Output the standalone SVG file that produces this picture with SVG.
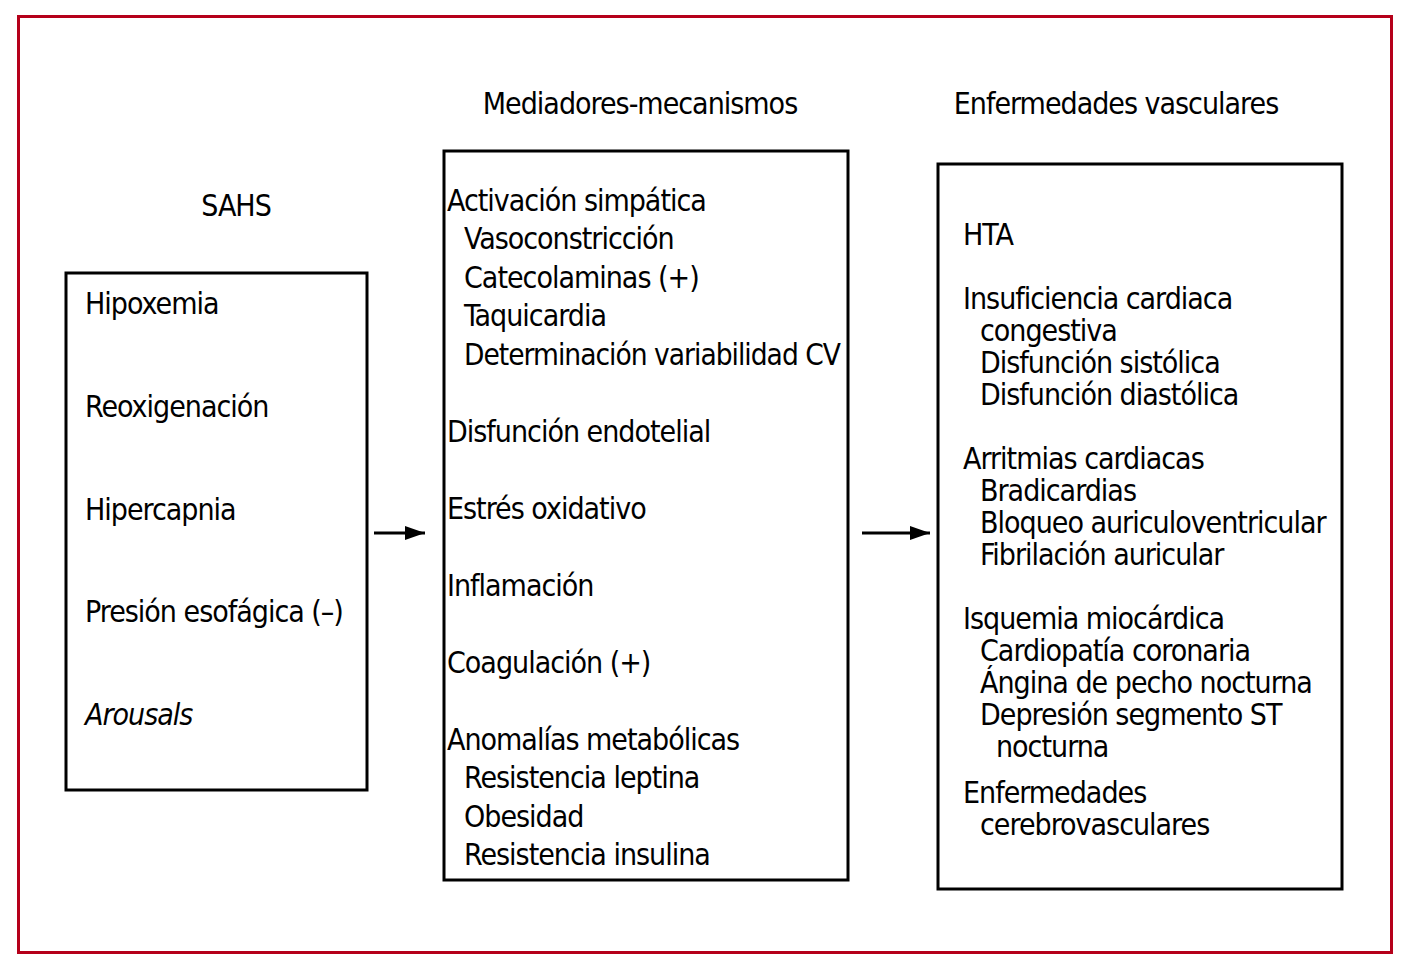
<svg xmlns="http://www.w3.org/2000/svg" width="1410" height="966" viewBox="0 0 1410 966">
<style>
text{font-family:"Liberation Sans Narrow","DejaVu Sans Condensed","Liberation Sans",sans-serif;font-stretch:condensed;font-size:30px;letter-spacing:-1px;fill:#000}
.box{fill:#fff;stroke:#000;stroke-width:3}
.hd{text-anchor:middle}
</style>
<defs>
<marker id="ah" markerWidth="20" markerHeight="14" refX="20" refY="7" orient="auto" markerUnits="userSpaceOnUse" viewBox="0 0 20 14">
<path d="M0,0 L20,7 L0,14 Z" fill="#000"/>
</marker>
</defs>
<rect width="1410" height="966" fill="#fff"/>
<rect x="18.5" y="16.5" width="1373" height="936" fill="none" stroke="#B5001A" stroke-width="3"/>
<text class="hd" x="640" y="114">Mediadores-mecanismos</text>
<text class="hd" x="1116" y="114">Enfermedades vasculares</text>
<text class="hd" x="236" y="216">SAHS</text>
<g id="sahs">
<rect class="box" x="66" y="273" width="301" height="517"/>
<text x="85" y="314">Hipoxemia</text>
<text x="85" y="417">Reoxigenación</text>
<text x="85" y="520">Hipercapnia</text>
<text x="85" y="622">Presión esofágica (–)</text>
<text x="85" y="725" font-style="italic">Arousals</text>
</g>
<g id="mediadores">
<rect class="box" x="444" y="151" width="404" height="729"/>
<text x="447" y="211">Activación simpática</text>
<text x="464" y="249">Vasoconstricción</text>
<text x="464" y="288">Catecolaminas (+)</text>
<text x="464" y="326">Taquicardia</text>
<text x="464" y="365" textLength="376" lengthAdjust="spacingAndGlyphs">Determinación variabilidad CV</text>
<text x="447" y="442">Disfunción endotelial</text>
<text x="447" y="519">Estrés oxidativo</text>
<text x="447" y="596">Inflamación</text>
<text x="447" y="673">Coagulación (+)</text>
<text x="447" y="750">Anomalías metabólicas</text>
<text x="464" y="788">Resistencia leptina</text>
<text x="464" y="827">Obesidad</text>
<text x="464" y="865">Resistencia insulina</text>
</g>
<g id="enfermedades">
<rect class="box" x="938" y="164" width="404" height="725"/>
<text x="963" y="245">HTA</text>
<text x="963" y="309">Insuficiencia cardiaca</text>
<text x="980" y="341">congestiva</text>
<text x="980" y="373">Disfunción sistólica</text>
<text x="980" y="405">Disfunción diastólica</text>
<text x="963" y="469">Arritmias cardiacas</text>
<text x="980" y="501">Bradicardias</text>
<text x="980" y="533">Bloqueo auriculoventricular</text>
<text x="980" y="565">Fibrilación auricular</text>
<text x="963" y="629">Isquemia miocárdica</text>
<text x="980" y="661">Cardiopatía coronaria</text>
<text x="980" y="693">Ángina de pecho nocturna</text>
<text x="980" y="725">Depresión segmento ST</text>
<text x="996" y="757">nocturna</text>
<text x="963" y="803">Enfermedades</text>
<text x="980" y="835">cerebrovasculares</text>
</g>
<g id="connectors" stroke="#000" stroke-width="3">
<line x1="374" y1="533" x2="425" y2="533" marker-end="url(#ah)"/>
<line x1="862" y1="533" x2="930" y2="533" marker-end="url(#ah)"/>
</g>
</svg>
